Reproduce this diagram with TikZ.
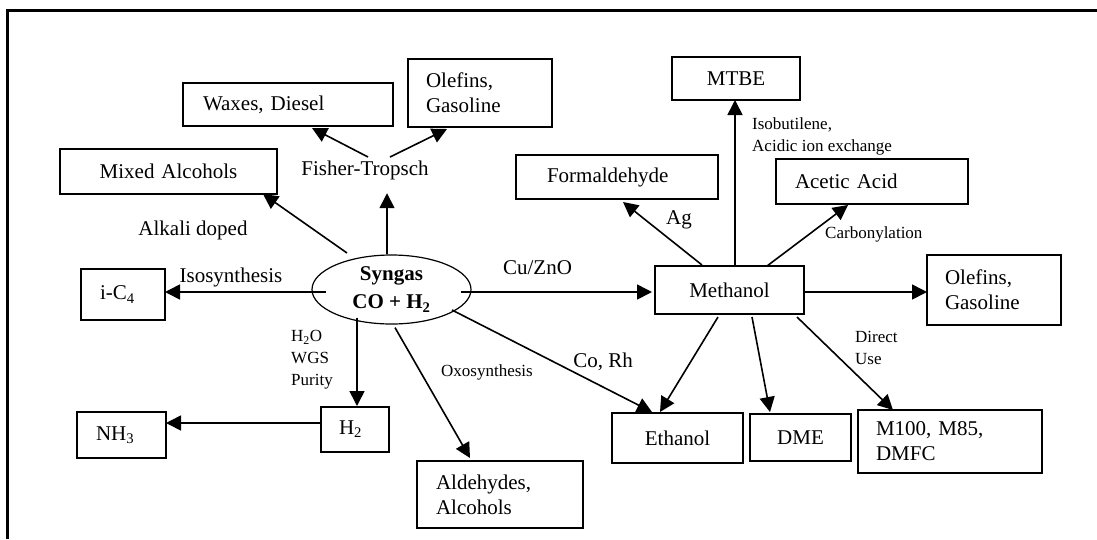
\documentclass[tikz,border=0pt]{standalone}
\usepackage{fontspec}
\setmainfont{Liberation Serif}
\usetikzlibrary{calc,shapes.geometric,arrows.meta}
\newcommand\fsA{\fontsize{21}{25}\selectfont}
\newcommand\fsB{\fontsize{17}{22}\selectfont}
\begin{document}
\begin{tikzpicture}[x=1pt,y=-1pt,
  bx/.style={draw, line width=2.2pt, rectangle, inner ysep=0pt, outer sep=0pt, font=\fsA},
  lbl/.style={inner sep=0pt, font=\fsA},
  sml/.style={inner sep=0pt, font=\fsB, align=left},
  arr/.style={line width=1.6pt, -{Triangle[length=15pt,width=15pt]}},
  frame/.style={line width=2.2pt}]
\useasboundingbox (0,0) rectangle (1097,539);
\fill[white] (0,0) rectangle (1097,539);

% page frame
\draw[frame] (7.5,539) -- (7.5,10.5) -- (1097,10.5);

% central syngas node
\node[draw, ellipse, line width=1.2pt, minimum width=159pt, minimum height=69pt,
      inner sep=0pt, align=center, font=\bfseries\fontsize{21}{28}\selectfont]
      (syn) at (391.5,289.5) {Syngas\\CO + H\textsubscript{2}};

% product boxes
\node[bx, text width=170pt, inner xsep=20pt, align=left, minimum height=43pt] (wax) at (288,104.5) {Waxes, Diesel};
\node[bx, text width=108pt, inner xsep=18pt, align=left, minimum height=68pt] (olf1) at (480,93) {Olefins,\\Gasoline};
\node[bx, text width=207pt, inner xsep=5pt, align=center, minimum height=45pt] (mix) at (168.5,171.5) {Mixed Alcohols};
\node[bx, text width=118pt, inner xsep=5pt, align=center, minimum height=43pt] (mtbe) at (736,78.5) {MTBE};
\node[bx, text width=140pt, inner xsep=31pt, align=left, minimum height=44pt] (form) at (617,177) {Formaldehyde};
\node[bx, text width=154pt, inner xsep=19pt, align=left, minimum height=45pt] (acet) at (872,181.5) {Acetic Acid};
\node[bx, text width=139pt, inner xsep=5pt, align=center, minimum height=48pt] (meth) at (729.5,290) {Methanol};
\node[bx, text width=98pt, inner xsep=18pt, align=left, minimum height=70pt] (olf2) at (994,290) {Olefins,\\Gasoline};
\node[bx, text width=46pt, inner xsep=19pt, align=left, minimum height=51pt] (ic4) at (123,294.5) {i-C\textsubscript{4}};
\node[bx, text width=51pt, inner xsep=19pt, align=left, minimum height=46pt] (nh3) at (121.5,435) {NH\textsubscript{3}};
\node[bx, text width=32pt, inner xsep=18pt, align=left, minimum height=45pt] (h2) at (355,429.5) {H\textsubscript{2}};
\node[bx, text width=128pt, inner xsep=19pt, align=left, minimum height=67pt] (ald) at (500,494.5) {Aldehydes,\\Alcohols};
\node[bx, text width=121pt, inner xsep=5pt, align=center, minimum height=50pt] (eth) at (677.5,438) {Ethanol};
\node[bx, text width=91pt, inner xsep=5pt, align=center, minimum height=47pt] (dme) at (800.5,437.5) {DME};
\node[bx, text width=148pt, inner xsep=18pt, align=left, minimum height=63pt] (m100) at (950,441.5) {M100, M85,\\DMFC};

% process labels
\node[lbl] (ft) at (365,170) {Fisher-Tropsch};
\node[lbl] (alk) at (193,230) {Alkali doped};
\node[lbl] (iso) at (231,277) {Isosynthesis};
\node[lbl] (cu) at (537.5,268) {Cu/ZnO};
\node[sml, anchor=west] (wgs) at (291,360) {H\textsubscript{2}O\\WGS\\Purity};
\node[sml] (oxo) at (487,372) {Oxosynthesis};
\node[lbl] (corh) at (603,362) {Co, Rh};
\node[lbl] (ag) at (679,220) {Ag};
\node[sml, anchor=west] (isob) at (752,136) {Isobutilene,\\Acidic ion exchange};
\node[sml, anchor=west] (carb) at (825,234) {Carbonylation};
\node[sml, anchor=west] (dir) at (855,347.5) {Direct\\Use};

% syngas routes
\draw[arr] ($(syn)+(-44.5,-36.5)$) -- ($(mix.south east)+(-14,0)$);
\draw[arr] ($(syn.north)+(-4.5,0)$) -- ($(ft.south)+(22,13.5)$);
\draw[arr] ($(ft)+(3,-13)$) -- ($(wax.south)+(24,2)$);
\draw[arr] ($(ft)+(25,-13)$) -- ($(olf1.south)+(-33,2)$);
\draw[arr] ($(syn.west)+(15,2.5)$) -- ($(ic4.east)+(0,-2.5)$);
\draw[arr] ($(syn.east)+(-11,2.5)$) -- ($(meth.west)+(-3,2)$);
\draw[arr] ($(syn.south)+(-34.5,-7)$) -- ($(h2.north)+(2,-1)$);
\draw[arr] ($(h2.west)+(0,-6.5)$) -- ($(nh3.east)+(0,-12)$);
\draw[arr] ($(syn.south)+(3.5,3)$) -- ($(ald.north)+(-30,-3)$);
\draw[arr] ($(syn)+(60.5,20.5)$) -- ($(eth.north)+(-25.5,-1)$);

% methanol routes
\draw[arr] ($(meth.north)+(-27.5,-1)$) -- ($(form.south)+(6,3)$);
\draw[arr] ($(meth.north)+(5.5,0)$) -- ($(mtbe.south)+(-1,0)$);
\draw[arr] ($(meth.north)+(37.5,0)$) -- ($(acet.south)+(-24,1)$);
\draw[arr] ($(meth.east)+(0,2)$) -- ($(olf2.west)+(0,2)$);
\draw[arr] ($(meth.south)+(-11.5,3)$) -- ($(eth.north)+(-17.5,-1)$);
\draw[arr] ($(meth.south)+(22.5,3)$) -- ($(dme.north)+(-30.5,-2)$);
\draw[arr] ($(meth.south)+(67.5,3)$) -- ($(m100.north)+(-57,0)$);
\end{tikzpicture}
\end{document}
